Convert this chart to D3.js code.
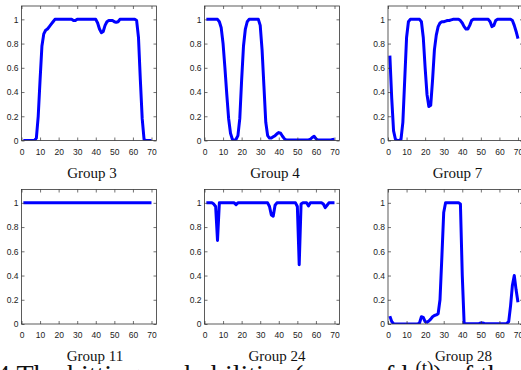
<!DOCTYPE html>
<html><head><meta charset="utf-8">
<script src="https://cdn.jsdelivr.net/npm/d3@7/dist/d3.min.js"></script>
<style>html,body{margin:0;padding:0;background:#fff;overflow:hidden}svg{display:block}</style>
</head><body>
<svg id="c" width="521" height="370"></svg>
<script>
const groupNames = ["Group 3","Group 4","Group 7","Group 11","Group 24","Group 28"];
const xTicks = [0,10,20,30,40,50,60,70];
const yTicks = [0,0.2,0.4,0.6,0.8,1];
const yTickLabels = ["0","0.2","0.4","0.6","0.8","1"];
const steps = d3.range(1,71);

const group3 = [0,0,0,0,0,0,0,0.02,0.2,0.5,0.78,0.88,0.91,0.92,0.94,0.96,0.98,1,1,1,
 1,1,1,1,1,1,1,0.99,0.99,1,1,1,1,1,1,1,1,1,1,1,
 0.97,0.92,0.89,0.9,0.95,0.98,0.99,0.99,0.99,0.98,0.975,0.98,1,1,1,1,1,1,1,1,
 1,0.99,0.85,0.5,0.18,0.01,0,0,0,0];
const group4 = [1,1,1,1,1,1,1,0.98,0.93,0.8,0.6,0.38,0.18,0.06,0.01,0,0.01,0.04,0.18,0.5,
 0.78,0.92,0.98,1,1,1,1,1,1,0.95,0.75,0.45,0.15,0.04,0.02,0.02,0.03,0.04,0.055,0.065,
 0.06,0.035,0.015,0.005,0.005,0.005,0.005,0.005,0.005,0.005,0.005,0.005,0.005,0.005,0.005,0.005,0.01,0.025,0.035,0.015,
 0.005,0.005,0.005,0.005,0.005,0.005,0.005,0.005,0.008,0.01];
const group7 = [0.7,0.35,0.08,0.01,0,0,0.01,0.15,0.5,0.85,0.98,1,1,1,1,1,1,0.98,0.85,0.6,
 0.38,0.28,0.29,0.5,0.75,0.87,0.94,0.97,0.98,0.98,0.985,0.99,0.99,0.995,1,1,1,1,0.99,0.97,
 0.94,0.92,0.92,0.95,0.99,1,1,1,1,1,1,1,1,1,0.98,0.94,0.95,0.99,1,1,
 1,1,1,1,1,1,0.99,0.95,0.9,0.84];
const group11 = [1,1,1,1,1,1,1,1,1,1,1,1,1,1,1,1,1,1,1,1,
 1,1,1,1,1,1,1,1,1,1,1,1,1,1,1,1,1,1,1,1,
 1,1,1,1,1,1,1,1,1,1,1,1,1,1,1,1,1,1,1,1,
 1,1,1,1,1,1,1,1,1,1];
const group24 = [1,1,1,1,0.99,0.97,0.69,1,1,1,1,1,1,1,1,1,0.985,1,1,1,
 1,1,1,1,1,1,1,1,1,1,1,1,1,1,0.97,0.9,0.89,0.98,1,1,
 1,1,1,1,1,1,1,1,1,0.97,0.49,0.99,1,1,1,0.975,1,1,1,1,
 1,1,1,0.99,0.96,0.98,1,1,1,1];
const group28 = [0.065,0.02,0.002,0,0,0,0,0,0,0,0,0,0,0,0,0,0.01,0.06,0.055,0.02,
 0.015,0.025,0.04,0.06,0.07,0.075,0.085,0.2,0.55,0.92,1,1,1,1,1,1,1,1,0.99,0.4,
 0.005,0.003,0.003,0.003,0.003,0.003,0.003,0.003,0.005,0.008,0.008,0.005,0.003,0.003,0.003,0.003,0.003,0.003,0.003,0.003,
 0.003,0.003,0.003,0.005,0.02,0.15,0.32,0.4,0.28,0.18];
const seriesList = [group3, group4, group7, group11, group24, group28];

const svg = d3.select("#c");
const W = 135, H = 134.5;
const lefts = [21.5, 204.5, 388];
const tops = [6, 189.5];
const titleDx = [3, 3, 2, 6, 5, 8];
const titleY = [177.5, 361];
const boxColor = "#333";

seriesList.forEach((vals, i) => {
  const col = i % 3, row = Math.floor(i / 3);
  const g = svg.append("g").attr("transform", `translate(${lefts[col]},${tops[row]})`);
  const x = d3.scaleLinear().domain([0, 72.7]).range([0, W]);
  const y = d3.scaleLinear().domain([0, 1.11]).range([H, 0]);

  const clip = "clip" + i;
  g.append("clipPath").attr("id", clip).append("rect").attr("width", W).attr("height", H);

  const line = d3.line().x((d, k) => x(steps[k])).y(d => y(d));
  g.append("path").datum(vals).attr("d", line)
    .attr("fill", "none").attr("stroke", "#0000ff").attr("stroke-width", 3)
    .attr("stroke-linejoin", "round").attr("stroke-linecap", "butt")
    .attr("clip-path", `url(#${clip})`);

  const fmtY = d => yTickLabels[yTicks.indexOf(d)];
  const styleAxis = sel => {
    sel.select(".domain").remove();
    sel.selectAll(".tick line").attr("stroke", boxColor).attr("stroke-width", 0.7);
    sel.selectAll("text").attr("fill", "#222").style("font-family", "'Liberation Sans', Arial, sans-serif").style("font-size", "8.5px");
  };
  g.append("g").attr("transform", `translate(0,${H})`)
    .call(d3.axisBottom(x).tickValues(xTicks).tickSizeInner(-3).tickSizeOuter(0).tickPadding(8).tickFormat(d3.format("d")))
    .call(styleAxis);
  g.append("g")
    .call(d3.axisTop(x).tickValues(xTicks).tickSizeInner(-3).tickSizeOuter(0).tickFormat(""))
    .call(styleAxis);
  g.append("g")
    .call(d3.axisLeft(y).tickValues(yTicks).tickSizeInner(-3).tickSizeOuter(0).tickPadding(3).tickFormat(fmtY))
    .call(styleAxis);
  g.append("g").attr("transform", `translate(${W},0)`)
    .call(d3.axisRight(y).tickValues(yTicks).tickSizeInner(-3).tickSizeOuter(0).tickFormat(""))
    .call(styleAxis);

  g.append("rect").attr("width", W).attr("height", H)
    .attr("fill", "none").attr("stroke", boxColor).attr("stroke-width", 0.8);

  svg.append("text").attr("x", lefts[col] + W / 2 + titleDx[i]).attr("y", titleY[row])
    .attr("text-anchor", "middle")
    .style("font-family", "'Liberation Serif', 'Times New Roman', serif").style("font-size", "15px")
    .attr("fill", "#111").text(groupNames[i]);
});

const cap = svg.append("text").attr("x", -4).attr("y", 384)
  .style("font-family", "'Liberation Serif', 'Times New Roman', serif").style("font-size", "28px").attr("fill", "#111");
cap.append("tspan").text("4 The hitting probabilities (mean of h");
cap.append("tspan").attr("dy", -10).style("font-size", "19px").text("(t)");
cap.append("tspan").attr("dy", 10).text(") of the");
</script>
</body></html>
